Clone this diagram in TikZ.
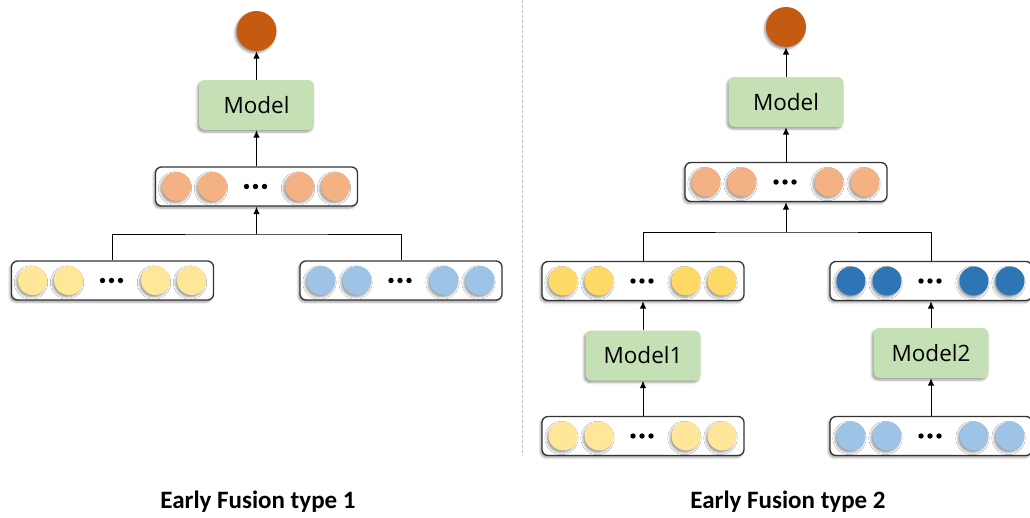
\documentclass[tikz,border=0pt]{standalone}
\usepackage{fontspec}
\setmainfont{Carlito}
\newfontfamily\modelfont{Open Sans}
\usetikzlibrary{arrows.meta,calc,shadows.blur}

\definecolor{outc}{HTML}{C55A11}
\definecolor{modelg}{HTML}{C5E0B4}
\definecolor{fusedc}{HTML}{F4B183}
\definecolor{ylight}{HTML}{FFE699}
\definecolor{ydark}{HTML}{FFD966}
\definecolor{blight}{HTML}{9DC3E6}
\definecolor{bdark}{HTML}{2E75B6}
\definecolor{boxline}{HTML}{333333}
\definecolor{divider}{HTML}{BFBFBF}

\tikzset{
  softshadow/.style={blur shadow={shadow xshift=-1.5pt,shadow yshift=-2pt,shadow blur radius=2.2pt,shadow opacity=40}},
  vecbox/.style={draw=boxline, line width=1.3pt, fill=white, rounded corners=6pt,
    minimum width=202pt, minimum height=39pt, inner sep=0pt, softshadow},
  feat/.style={circle, minimum size=29pt, inner sep=0pt, softshadow},
  modelbox/.style={fill=modelg, rounded corners=6pt, minimum width=115pt, minimum height=50pt,
    inner sep=0pt, font=\modelfont\fontsize{22.5}{24}\selectfont, softshadow},
  outnode/.style={circle, fill=outc, minimum size=40pt, inner sep=0pt, softshadow},
  link/.style={line width=1pt, draw=black},
  flow/.style={link, -{Latex[length=7.5pt,width=6.5pt]}},
  caption/.style={font=\fontsize{25}{28}\selectfont\bfseries}
}

% a feature vector: framed row of four circles with an ellipsis
\newcommand{\featvec}[3]{%
  \node[vecbox] (#1) at (#2) {};
  \foreach \dx [count=\i] in {-80,-44,43,79}
    \node[feat, fill=#3] (#1-c\i) at ($(#1)+(\dx,0)$) {};
  \foreach \dx in {-10,-1,8}
    \fill ($(#1)+(\dx,0)$) circle (2.7);
}

\begin{document}
\begin{tikzpicture}[x=1pt,y=-1pt]
\useasboundingbox (0,0) rectangle (1030,517);

% divider between the two schemes
\draw[divider, line width=0.8pt, dash pattern=on 3pt off 2pt] (522,0) -- (522,456);

% ---------- type 1 ----------
\node[outnode] (out1) at (256.5,31) {};
\node[modelbox] (m1) at (256.5,105) {Model};
\featvec{fused1}{256.5,186.5}{fusedc}
\featvec{ya}{112.5,280.5}{ylight}
\featvec{ba}{401,280.5}{blight}
\coordinate (j1) at (256.5,234);

\draw[flow] (m1) -- (out1);
\draw[flow] (fused1) -- (m1);
\draw[link] (ya.north) |- (j1) -| (ba.north);
\draw[flow] (j1) -- (fused1.south);

\node[caption] (cap1) at (258,502) {Early Fusion type 1};

% ---------- type 2 ----------
\node[outnode] (out2) at (786,27) {};
\node[modelbox] (m2) at (786,102) {Model};
\featvec{fused2}{786,182}{fusedc}
\featvec{yb}{643,281}{ydark}
\featvec{bb}{931,281}{bdark}
\node[modelbox] (mA) at (643,355.5) {Model1};
\node[modelbox] (mB) at (931,353) {Model2};
\featvec{yc}{643,436}{ylight}
\featvec{bc}{931,436}{blight}
\coordinate (j2) at (786,232);

\draw[flow] (m2) -- (out2);
\draw[flow] (fused2) -- (m2);
\draw[link] (yb.north) |- (j2) -| (bb.north);
\draw[flow] (j2) -- (fused2.south);
\draw[flow] (yc) -- (mA);
\draw[flow] (mA) -- (yb);
\draw[flow] (bc) -- (mB);
\draw[flow] (mB) -- (bb);

\node[caption] (cap2) at (788,502) {Early Fusion type 2};
\end{tikzpicture}
\end{document}
